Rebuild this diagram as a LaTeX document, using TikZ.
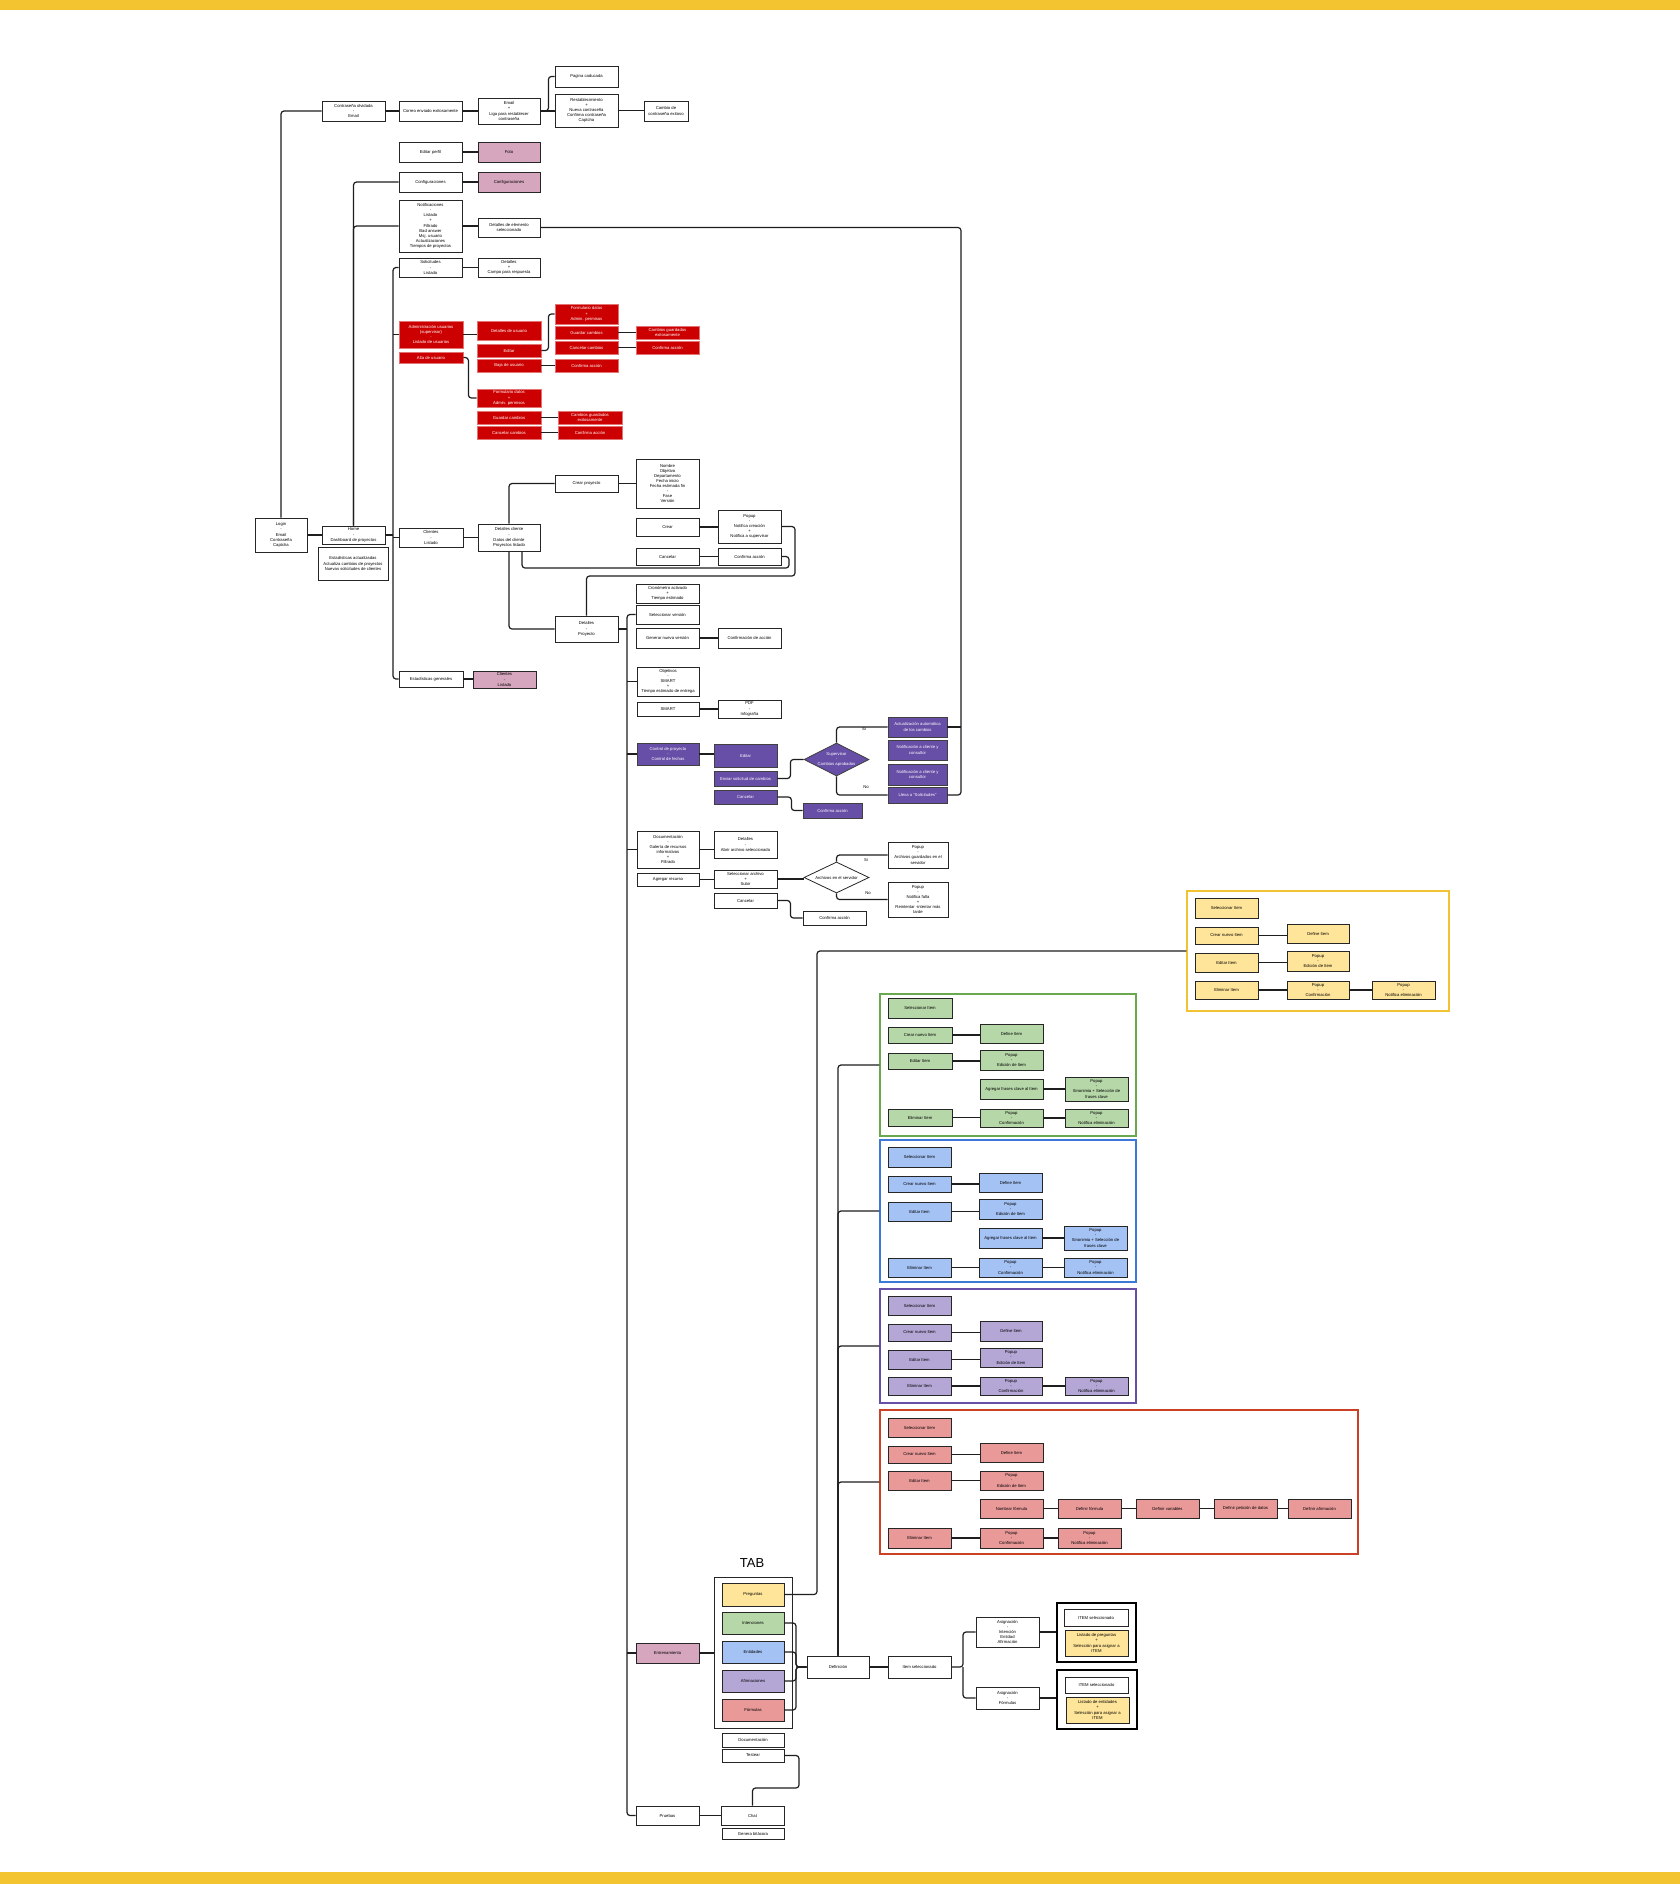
\documentclass[tikz,border=0pt]{standalone}
\usepackage{fontspec}
\setmainfont{Liberation Sans}
\usetikzlibrary{shapes.geometric,calc}
\definecolor{barc}{RGB}{244,196,48}
\definecolor{pinkc}{RGB}{213,166,189}
\definecolor{redc}{RGB}{204,0,0}
\definecolor{purpc}{RGB}{103,78,167}
\definecolor{yelc}{RGB}{255,229,153}
\definecolor{grnc}{RGB}{182,215,168}
\definecolor{bluc}{RGB}{164,194,244}
\definecolor{lavc}{RGB}{180,167,214}
\definecolor{salc}{RGB}{234,153,153}
\definecolor{yfc}{RGB}{241,194,50}
\definecolor{gfc}{RGB}{106,168,79}
\definecolor{bfc}{RGB}{60,120,216}
\definecolor{lfc}{RGB}{103,78,167}
\definecolor{rfc}{RGB}{204,65,37}
\definecolor{linec}{RGB}{30,30,30}
\newcommand\sm{\fontsize{4.2}{5.1}\selectfont}
\newcommand\bx[7]{\node[#1,minimum width={((#5)-(#3))*1pt},minimum height={((#6)-(#4))*1pt}] (#2) at ({((#3)+(#5))/2},{((#4)+(#6))/2}) {#7};}
\newcommand\hl[2]{\draw[conn] (#1.east) -- (#1.east -| #2.west);}
\begin{document}
\begin{tikzpicture}[x=1pt,y=-1pt,
  box/.style={draw=black!85,fill=white,line width=0.8pt,inner sep=0.3pt,align=center,font=\sm},
  pinkbox/.style={box,fill=pinkc},
  redbox/.style={box,fill=redc,draw=redc!55!white,text=white},
  purpbox/.style={box,fill=purpc,draw=black!75,text=white},
  yelbox/.style={box,fill=yelc},
  grnbox/.style={box,fill=grnc},
  blubox/.style={box,fill=bluc},
  lavbox/.style={box,fill=lavc},
  salbox/.style={box,fill=salc},
  frm/.style={draw=#1,line width=1.2pt,fill=white,inner sep=0},
  blkfrm/.style={draw=black,line width=2pt,fill=white,inner sep=0},
  conn/.style={draw=linec,line width=1.2pt,rounded corners=3pt},
  lbl/.style={font=\sm,inner sep=0}]
\fill[white] (0,0) rectangle (1680,1884);
\useasboundingbox (0,0) rectangle (1680,1884);
\fill[barc] (0,0) rectangle (1680,10);
\fill[barc] (0,1872) rectangle (1680,1884);

% ---------- top area
\bx{box}{login}{255}{518}{307}{552}{Login\\-\\Email\\Contraseña\\Captcha}
\bx{box}{home}{322}{526}{385}{544}{Home\\-\\Dashboard de proyectos}
\bx{box}{stats}{318}{547}{388}{580}{Estadísticas actualizadas\\Actualiza cambios de proyectos\\Nuevas solicitudes de clientes}
\bx{box}{pwd}{322}{101}{385}{121}{Contraseña olvidada\\-\\Email}
\bx{box}{correo}{399}{101}{462}{121}{Correo enviado exitosamente}
\bx{box}{email}{478}{98}{540}{124}{Email\\+\\Liga para restablecer\\contraseña}
\bx{box}{caduc}{555}{66}{618}{87}{Pagina caducada}
\bx{box}{restab}{555}{94}{618}{127}{Restablecimiento\\+\\Nueva contraseña\\Confirma contraseña\\Captcha}
\bx{box}{cambio}{644}{101}{688}{121}{Cambio de\\contraseña exitoso}
\bx{box}{perfil}{399}{142}{462}{162}{Editar perfil}
\bx{pinkbox}{foto}{478}{142}{540}{162}{Foto}
\bx{box}{config}{399}{172}{462}{192}{Configuraciones}
\bx{pinkbox}{configb}{478}{172}{540}{192}{Configuraciones}
\bx{box}{notif}{399}{200}{462}{252}{Notificaciones\\-\\Listado\\+\\Filtrado\\Bad answer\\Msj. usuario\\Actualizaciones\\Tiempos de proyectos}
\bx{box}{detel}{478}{218}{540}{237}{Detalles de elemento\\seleccionado}
\bx{box}{solic}{399}{258}{462}{277}{Solicitudes\\-\\Listado}
\bx{box}{detsol}{478}{258}{540}{277}{Detalles\\+\\Campo para respuesta}

% ---------- red area
\bx{redbox}{admin}{399}{321}{463}{348}{Administración usuarios\\(supervisor)\\-\\Listado de usuarios}
\bx{redbox}{alta}{399}{352}{463}{363}{Alta de usuario}
\bx{redbox}{detusr}{477}{321}{541}{340}{Detalles de usuario}
\bx{redbox}{editar}{477}{344}{541}{357}{Editar}
\bx{redbox}{baja}{477}{359}{541}{372}{Baja de usuario}
\bx{redbox}{form1}{555}{304}{618}{324}{Formulario datos\\+\\Admin. permisos}
\bx{redbox}{guard1}{555}{326}{618}{339}{Guardar cambios}
\bx{redbox}{canc1}{555}{341}{618}{354}{Cancelar cambios}
\bx{redbox}{camb1}{636}{326}{699}{339}{Cambios guardados\\exitosamente}
\bx{redbox}{conf1}{636}{341}{699}{354}{Confirma acción}
\bx{redbox}{confbaja}{555}{359}{618}{372}{Confirma acción}
\bx{redbox}{form2}{477}{389}{541}{407}{Formulario datos\\+\\Admin. permisos}
\bx{redbox}{guard2}{477}{411}{541}{424}{Guardar cambios}
\bx{redbox}{canc2}{477}{426}{541}{439}{Cancelar cambios}
\bx{redbox}{camb2}{558}{411}{622}{424}{Cambios guardados\\exitosamente}
\bx{redbox}{conf2}{558}{426}{622}{439}{Confirma acción}

% ---------- clients / project
\bx{box}{clientes}{399}{528}{463}{547}{Clientes\\-\\Listado}
\bx{box}{dcli}{478}{524}{540}{551}{Detalles cliente\\-\\Datos del cliente\\Proyectos listado}
\bx{box}{crearp}{555}{475}{618}{492}{Crear proyecto}
\bx{box}{nombre}{636}{459}{699}{508}{Nombre\\Objetivo\\Departamento\\Fecha inicio\\Fecha estimada fin\\-\\Fase\\Versión}
\bx{box}{crear}{636}{518}{699}{536}{Crear}
\bx{box}{popup1}{718}{510}{781}{543}{Popup\\-\\Notifica creación\\+\\Notifica a supervisor}
\bx{box}{cancelp}{636}{548}{699}{565}{Cancelar}
\bx{box}{confp}{718}{548}{781}{565}{Confirma acción}
\bx{box}{crono}{636}{584}{699}{603}{Cronómetro activado\\+\\Tiempo estimado}
\bx{box}{selver}{636}{605}{699}{624}{Seleccionar versión}
\bx{box}{dproj}{555}{616}{618}{642}{Detalles\\-\\Proyecto}
\bx{box}{genver}{636}{628}{699}{648}{Generar nueva versión}
\bx{box}{confver}{718}{628}{781}{648}{Confirmación de acción}
\bx{box}{estg}{399}{671}{463}{687}{Estadísticas generales}
\bx{pinkbox}{clilist}{473}{671}{536}{688}{Clientes\\-\\Listado}

% ---------- objectives / control
\bx{box}{obj}{637}{667}{699}{696}{Objetivos\\-\\SMART\\+\\Tiempo estimado de entrega}
\bx{box}{smart}{637}{702}{699}{716}{SMART}
\bx{box}{pdf}{718}{700}{781}{718}{PDF\\-\\Infografía}
\bx{purpbox}{ctrl}{637}{743}{699}{765}{Control de proyecto\\-\\Control de fechas}
\bx{purpbox}{editp}{714}{744}{777}{767}{Editar}
\bx{purpbox}{enviar}{714}{771}{777}{786}{Enviar solicitud de cambios}
\bx{purpbox}{cancp}{714}{790}{777}{804}{Cancelar}
\bx{purpbox}{confpp}{803}{803}{862}{818}{Confirma acción}
\node[diamond,draw=black!75,fill=purpc,line width=0.8pt,minimum width=65pt,minimum height=33pt,inner sep=0] (diam1) at (836.5,759.5) {};
\node[font=\sm,text=white,align=center,inner sep=0] (diam1t) at (diam1) {Supervisor\\-\\Cambios aprobados};
\bx{purpbox}{act}{888}{717}{947}{737}{Actualización automática\\de los cambios}
\bx{purpbox}{notc1}{888}{740}{947}{760}{Notificación a cliente y\\consultor}
\bx{purpbox}{notc2}{888}{764}{947}{785}{Notificación a cliente y\\consultor}
\bx{purpbox}{lleva}{888}{787}{947}{803}{Lleva a ``Solicitudes''}
\node[lbl] (si1) at (864,729) {Si};
\node[lbl] (no1) at (866,787) {No};

% ---------- documentation
\bx{box}{docu}{637}{831}{699}{868}{Documentación\\-\\Galería de recursos\\informativos\\+\\Filtrado}
\bx{box}{detdoc}{714}{831}{777}{858}{Detalles\\-\\Abrir archivo seleccionado}
\bx{box}{agreg}{637}{873}{699}{886}{Agregar recurso}
\bx{box}{selarch}{714}{870}{777}{888}{Seleccionar archivo\\+\\Subir}
\bx{box}{cancd}{714}{893}{777}{908}{Cancelar}
\bx{box}{confd}{803}{911}{866}{925}{Confirma acción}
\node[diamond,draw=black!85,fill=white,line width=0.8pt,minimum width=65pt,minimum height=31pt,inner sep=0] (diam2) at (836.5,877.5) {};
\node[font=\sm,align=center,inner sep=0] (diam2t) at (diam2) {Archivos en el servidor};
\bx{box}{pop2}{888}{842}{948}{868}{Popup\\-\\Archivos guardados en el\\servidor}
\bx{box}{pop3}{888}{882}{948}{917}{Popup\\-\\Notifica falla\\+\\Reintentar -intentar más\\tarde}
\node[lbl] (si2) at (866,860) {Si};
\node[lbl] (no2) at (868,893) {No};

% ---------- yellow frame
\bx{frm=yfc}{yfr}{1187}{891}{1449}{1011}{}
\bx{yelbox}{ysel}{1195}{898}{1258}{918}{Seleccionar Item}
\bx{yelbox}{ycre}{1195}{927}{1258}{944}{Crear nuevo Item}
\bx{yelbox}{ydef}{1287}{924}{1349}{943}{Define Item}
\bx{yelbox}{yedi}{1195}{953}{1258}{972}{Editar Item}
\bx{yelbox}{yped}{1287}{951}{1349}{971}{Popup\\-\\Edición de Item}
\bx{yelbox}{yeli}{1195}{981}{1258}{999}{Eliminar Item}
\bx{yelbox}{ypco}{1287}{981}{1349}{999}{Popup\\-\\Confirmación}
\bx{yelbox}{ypno}{1372}{981}{1435}{999}{Popup\\-\\Notifica eliminación}

% ---------- green frame
\bx{frm=gfc}{gfr}{880}{994}{1136}{1136}{}
\bx{grnbox}{gsel}{888}{998}{952}{1018}{Seleccionar Item}
\bx{grnbox}{gcre}{888}{1027}{952}{1043}{Crear nuevo Item}
\bx{grnbox}{gdef}{980}{1024}{1043}{1043}{Define Item}
\bx{grnbox}{gedi}{888}{1053}{952}{1069}{Editar Item}
\bx{grnbox}{gped}{980}{1050}{1043}{1070}{Popup\\-\\Edición de Item}
\bx{grnbox}{gagr}{980}{1079}{1043}{1099}{Agregar frases clave al Item}
\bx{grnbox}{gsin}{1065}{1077}{1128}{1101}{Popup\\-\\Sinonimia + Selección de\\frases clave}
\bx{grnbox}{geli}{888}{1109}{952}{1126}{Eliminar Item}
\bx{grnbox}{gpco}{980}{1109}{1043}{1127}{Popup\\-\\Confirmación}
\bx{grnbox}{gpno}{1065}{1109}{1128}{1127}{Popup\\-\\Notifica eliminación}

% ---------- blue frame
\bx{frm=bfc}{bfr}{880}{1140}{1136}{1282}{}
\bx{blubox}{bsel}{888}{1147}{951}{1167}{Seleccionar Item}
\bx{blubox}{bcre}{888}{1176}{951}{1192}{Crear nuevo Item}
\bx{blubox}{bdef}{979}{1173}{1042}{1192}{Define Item}
\bx{blubox}{bedi}{888}{1202}{951}{1221}{Editar Item}
\bx{blubox}{bped}{979}{1199}{1042}{1219}{Popup\\-\\Edición de Item}
\bx{blubox}{bagr}{979}{1228}{1042}{1248}{Agregar frases clave al Item}
\bx{blubox}{bsin}{1064}{1226}{1127}{1250}{Popup\\-\\Sinonimia + Selección de\\frases clave}
\bx{blubox}{beli}{888}{1258}{951}{1277}{Eliminar Item}
\bx{blubox}{bpco}{979}{1258}{1042}{1277}{Popup\\-\\Confirmación}
\bx{blubox}{bpno}{1064}{1258}{1127}{1277}{Popup\\-\\Notifica eliminación}

% ---------- lavender frame
\bx{frm=lfc}{lfr}{880}{1289}{1136}{1403}{}
\bx{lavbox}{lsel}{888}{1296}{951}{1315}{Seleccionar Item}
\bx{lavbox}{lcre}{888}{1324}{951}{1341}{Crear nuevo Item}
\bx{lavbox}{ldef}{980}{1321}{1042}{1341}{Define Item}
\bx{lavbox}{ledi}{888}{1350}{951}{1369}{Editar Item}
\bx{lavbox}{lped}{980}{1348}{1042}{1367}{Popup\\-\\Edición de Item}
\bx{lavbox}{leli}{888}{1377}{951}{1395}{Eliminar Item}
\bx{lavbox}{lpco}{980}{1377}{1042}{1395}{Popup\\-\\Confirmación}
\bx{lavbox}{lpno}{1065}{1377}{1128}{1395}{Popup\\-\\Notifica eliminación}

% ---------- red frame
\bx{frm=rfc}{rfr}{880}{1410}{1358}{1554}{}
\bx{salbox}{rsel}{888}{1418}{951}{1437}{Seleccionar Item}
\bx{salbox}{rcre}{888}{1446}{951}{1463}{Crear nuevo Item}
\bx{salbox}{rdef}{980}{1443}{1043}{1462}{Define Item}
\bx{salbox}{redi}{888}{1471}{951}{1490}{Editar Item}
\bx{salbox}{rped}{980}{1471}{1043}{1490}{Popup\\-\\Edición de Item}
\bx{salbox}{rnom}{980}{1499}{1043}{1518}{Nombrar fórmula}
\bx{salbox}{rdfo}{1058}{1499}{1121}{1518}{Definir fórmula}
\bx{salbox}{rdva}{1136}{1499}{1199}{1518}{Definir variables}
\bx{salbox}{rdpe}{1214}{1499}{1277}{1518}{Definir petición de datos}
\bx{salbox}{rdaf}{1288}{1499}{1351}{1518}{Definir afirmación}
\bx{salbox}{reli}{888}{1528}{951}{1548}{Eliminar Item}
\bx{salbox}{rpco}{980}{1528}{1043}{1548}{Popup\\-\\Confirmación}
\bx{salbox}{rpno}{1058}{1528}{1121}{1548}{Popup\\-\\Notifica eliminación}

% ---------- bottom / TAB
\node[font=\fontsize{13}{15}\selectfont,inner sep=0] (tablbl) at (752,1563) {TAB};
\bx{box}{tabfr}{714}{1577}{792}{1728}{}
\bx{yelbox}{preg}{722}{1583}{784}{1606}{Preguntas}
\bx{grnbox}{inten}{722}{1612}{784}{1634}{Intenciones}
\bx{blubox}{entid}{722}{1641}{784}{1663}{Entidades}
\bx{lavbox}{afirm}{722}{1670}{784}{1692}{Afirmaciones}
\bx{salbox}{formu}{722}{1699}{784}{1721}{Fórmulas}
\bx{box}{docb}{722}{1733}{784}{1747}{Documentación}
\bx{box}{test}{722}{1749}{784}{1762}{Testear}
\bx{box}{chat}{721}{1806}{784}{1825}{Chat}
\bx{box}{bitac}{722}{1828}{784}{1839}{Genera bitácora}
\bx{box}{pruebas}{636}{1806}{699}{1825}{Pruebas}
\bx{pinkbox}{entr}{636}{1643}{699}{1663}{Entrenamiento}
\bx{box}{defin}{807}{1656}{869}{1678}{Definición}
\bx{box}{itemsel}{888}{1656}{951}{1678}{Item seleccionado}
\bx{box}{asig1}{976}{1617}{1039}{1647}{Asignación\\-\\Intención\\Entidad\\Afirmación}
\bx{box}{asig2}{976}{1687}{1039}{1709}{Asignación\\-\\Fórmulas}
\bx{blkfrm}{fr1}{1057}{1603}{1136}{1662}{}
\bx{box}{it1}{1064}{1609}{1128}{1626}{ITEM seleccionado}
\bx{yelbox}{lpreg}{1065}{1630}{1128}{1656}{Listado de preguntas\\+\\Selección para asignar a\\ITEM}
\bx{blkfrm}{fr2}{1057}{1670}{1137}{1729}{}
\bx{box}{it2}{1065}{1677}{1128}{1693}{ITEM seleccionado}
\bx{yelbox}{lent}{1066}{1697}{1129}{1723}{Listado de entidades\\+\\Selección para asignar a\\ITEM}

% ---------- coordinates
\coordinate (t1) at (393,535);
\coordinate (t2) at (627,629);
\coordinate (lpa) at (789,568);
\coordinate (lpb) at (795,576);
\coordinate (c4) at (961,500);
\coordinate (c5) at (817,1200);
\coordinate (c6) at (796,1667);
\coordinate (c7) at (963,1667);
\coordinate (c8) at (799,1788);

% ---------- connectors: top
\draw[conn] (login.north) |- (pwd.west);
\hl{login}{home}
\hl{pwd}{correo}
\hl{correo}{email}
\hl{email}{restab}
\draw[conn] (email.east) -- ++(8,0) |- (caduc.west);
\hl{restab}{cambio}
\hl{perfil}{foto}
\hl{config}{configb}
\hl{notif}{detel}
\hl{solic}{detsol}
\draw[conn] (home.north) |- (config.west);
\draw[conn] (home.north) |- (notif.west);
\draw[conn] (solic.west) -| (t1 |- estg.west) -- (estg.west);
\draw[conn] (home.east) -- (t1);
\draw[conn] (t1 |- admin.west) -- (admin.west);
\draw[conn] (t1 |- clientes.west) -- (clientes.west);
\hl{estg}{clilist}

% red
\hl{admin}{detusr}
\draw[conn] (editar.east) -- ++(7,0) |- (form1.west);
\hl{guard1}{camb1}
\hl{canc1}{conf1}
\hl{baja}{confbaja}
\draw[conn] (alta.east) -- ++(5,0) |- (form2.west);
\hl{guard2}{camb2}
\hl{canc2}{conf2}

% project
\hl{clientes}{dcli}
\draw[conn] (dcli.north) |- (crearp.west);
\draw[conn] (dcli.south) |- (dproj.west);
\hl{crearp}{nombre}
\hl{crear}{popup1}
\hl{cancelp}{confp}
\draw[conn] (confp.east) -| (lpa) -| ([xshift=13pt]dcli.south);
\draw[conn] (popup1.east) -| (lpb) -| (dproj.north);
\draw[conn] (dproj.east) -- (t2);
\draw[conn] (selver.west) -| (t2 |- pruebas.west) -- (pruebas.west);
\draw[conn] (t2 |- obj.west) -- (obj.west);
\draw[conn] (t2 |- ctrl.west) -- (ctrl.west);
\draw[conn] (t2 |- docu.west) -- (docu.west);
\draw[conn] (t2 |- entr.west) -- (entr.west);
\hl{genver}{confver}
\hl{smart}{pdf}

% control
\hl{ctrl}{editp}
\draw[conn] (enviar.east) -- ++(13,0) |- (diam1.west);
\draw[conn] (diam1.north) |- (act.west);
\draw[conn] (diam1.south) |- (lleva.west);
\draw[conn] (cancp.east) -- ++(14,0) |- (confpp.west);
\draw[conn] (detel.east) -| (c4 |- lleva.east) -- (lleva.east);
\draw[conn] (act.east) -- (act.east -| c4);

% documentation
\hl{docu}{detdoc}
\hl{agreg}{selarch}
\hl{selarch}{diam2}
\draw[conn] (diam2.north) |- (pop2.west);
\draw[conn] (diam2.south) |- (pop3.west);
\draw[conn] (cancd.east) -- ++(13,0) |- (confd.west);

% frames inner
\hl{ycre}{ydef} \hl{yedi}{yped} \hl{yeli}{ypco} \hl{ypco}{ypno}
\hl{gcre}{gdef} \hl{gedi}{gped} \hl{gagr}{gsin} \hl{geli}{gpco} \hl{gpco}{gpno}
\hl{bcre}{bdef} \hl{bedi}{bped} \hl{bagr}{bsin} \hl{beli}{bpco} \hl{bpco}{bpno}
\hl{lcre}{ldef} \hl{ledi}{lped} \hl{leli}{lpco} \hl{lpco}{lpno}
\hl{rcre}{rdef} \hl{redi}{rped} \hl{rnom}{rdfo} \hl{rdfo}{rdva} \hl{rdva}{rdpe} \hl{rdpe}{rdaf}
\hl{reli}{rpco} \hl{rpco}{rpno}

% bottom
\draw[conn] (preg.east) -| (c5 |- yfr.west) -- (yfr.west);
\draw[conn] (defin.north) |- (gfr.west);
\draw[conn] (defin.north) |- (bfr.west);
\draw[conn] (defin.north) |- (lfr.west);
\draw[conn] (defin.north) |- (rfr.west);
\draw[conn] (inten.east) -| (c6) -- (defin.west);
\draw[conn] (entid.east) -| (c6) -- (defin.west);
\draw[conn] (afirm.east) -| (c6) -- (defin.west);
\draw[conn] (formu.east) -| (c6) -- (defin.west);
\hl{defin}{itemsel}
\draw[conn] (itemsel.east) -- (c7) |- (asig1.west);
\draw[conn] (c7) |- (asig2.west);
\hl{asig1}{fr1}
\hl{asig2}{fr2}
\hl{entr}{tabfr}
\draw[conn] (test.east) -| (c8) -| (chat.north);
\hl{pruebas}{chat}
\end{tikzpicture}
\end{document}
